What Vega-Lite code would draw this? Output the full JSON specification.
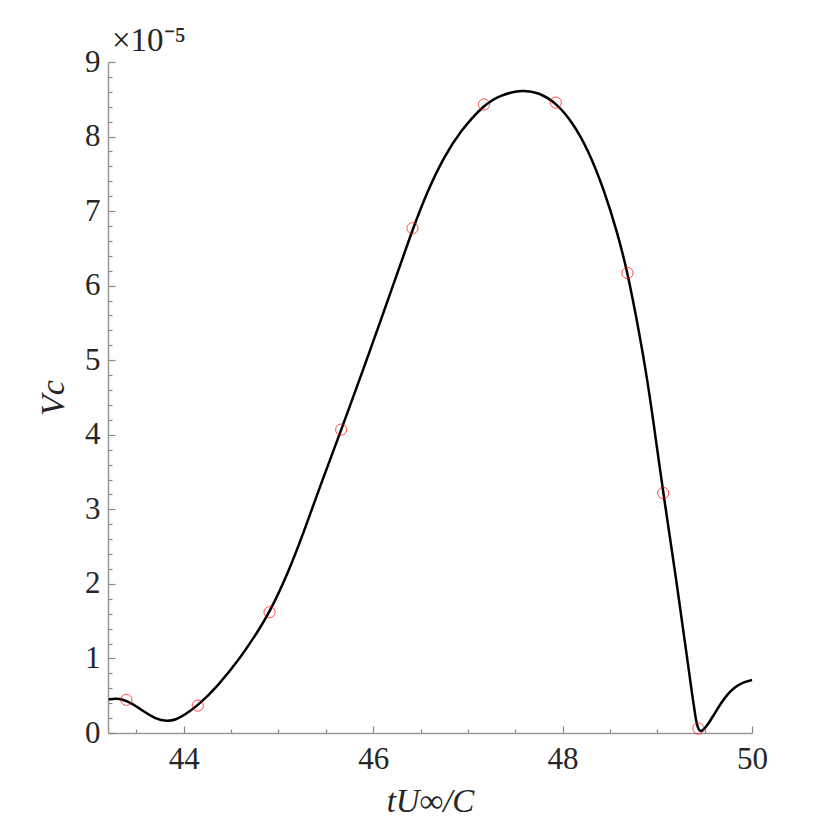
{
  "$schema": "https://vega.github.io/schema/vega-lite/v6.json",
  "width": 644,
  "height": 671,
  "autosize": "none",
  "padding": {"left": 108, "top": 62, "right": 78, "bottom": 97},
  "background": "white",
  "config": {"view": {"stroke": null}, "font": "Liberation Serif"},
  "title": {
    "text": "×10⁻⁵",
    "anchor": "start",
    "frame": "group",
    "dx": 4,
    "offset": 0,
    "dy": 12,
    "font": "Liberation Serif",
    "fontSize": 33,
    "fontWeight": "normal",
    "color": "#262626"
  },
  "datasets": {
    "curve": [
      {"t": 43.207, "Vc": 0.45},
      {"t": 43.28, "Vc": 0.462},
      {"t": 43.35, "Vc": 0.455},
      {"t": 43.45, "Vc": 0.4},
      {"t": 43.577, "Vc": 0.29},
      {"t": 43.7, "Vc": 0.19},
      {"t": 43.824, "Vc": 0.155},
      {"t": 43.92, "Vc": 0.18},
      {"t": 44.0, "Vc": 0.235},
      {"t": 44.148, "Vc": 0.367},
      {"t": 44.353, "Vc": 0.62},
      {"t": 44.6, "Vc": 1.01},
      {"t": 44.776, "Vc": 1.35},
      {"t": 44.906, "Vc": 1.62},
      {"t": 45.093, "Vc": 2.12},
      {"t": 45.269, "Vc": 2.7},
      {"t": 45.445, "Vc": 3.33},
      {"t": 45.664, "Vc": 4.07},
      {"t": 45.939, "Vc": 5.03},
      {"t": 46.114, "Vc": 5.66},
      {"t": 46.29, "Vc": 6.29},
      {"t": 46.415, "Vc": 6.75},
      {"t": 46.573, "Vc": 7.27},
      {"t": 46.748, "Vc": 7.73},
      {"t": 46.925, "Vc": 8.08},
      {"t": 47.171, "Vc": 8.43},
      {"t": 47.348, "Vc": 8.56},
      {"t": 47.577, "Vc": 8.63},
      {"t": 47.75, "Vc": 8.59},
      {"t": 47.929, "Vc": 8.455},
      {"t": 48.1, "Vc": 8.2},
      {"t": 48.264, "Vc": 7.84},
      {"t": 48.44, "Vc": 7.28},
      {"t": 48.581, "Vc": 6.7},
      {"t": 48.687, "Vc": 6.17},
      {"t": 48.793, "Vc": 5.48},
      {"t": 48.899, "Vc": 4.72},
      {"t": 49.0, "Vc": 3.8},
      {"t": 49.063, "Vc": 3.22},
      {"t": 49.215, "Vc": 1.93},
      {"t": 49.321, "Vc": 0.95},
      {"t": 49.37, "Vc": 0.5},
      {"t": 49.4, "Vc": 0.24},
      {"t": 49.42, "Vc": 0.1},
      {"t": 49.44, "Vc": 0.04},
      {"t": 49.455, "Vc": 0.025},
      {"t": 49.47, "Vc": 0.03},
      {"t": 49.49, "Vc": 0.05},
      {"t": 49.533, "Vc": 0.11},
      {"t": 49.6, "Vc": 0.25},
      {"t": 49.673, "Vc": 0.4},
      {"t": 49.74, "Vc": 0.52},
      {"t": 49.814, "Vc": 0.61},
      {"t": 49.9, "Vc": 0.68},
      {"t": 50.0, "Vc": 0.71}
    ],
    "samples": [
      {"t": 43.394, "Vc": 0.445},
      {"t": 44.148, "Vc": 0.367},
      {"t": 44.906, "Vc": 1.62},
      {"t": 45.662, "Vc": 4.07},
      {"t": 46.415, "Vc": 6.77},
      {"t": 47.17, "Vc": 8.43},
      {"t": 47.928, "Vc": 8.455},
      {"t": 48.685, "Vc": 6.17},
      {"t": 49.062, "Vc": 3.219},
      {"t": 49.434, "Vc": 0.06}
    ]
  },
  "encoding": {
    "x": {
      "field": "t",
      "type": "quantitative",
      "scale": {"domain": [43.2, 50], "nice": false, "zero": false},
      "axis": {
        "title": "tU∞/C",
        "values": [43.5, 44, 44.5, 45, 45.5, 46, 46.5, 47, 47.5, 48, 48.5, 49, 49.5, 50],
        "labelExpr": "datum.value % 2 === 0 ? format(datum.value, 'd') : ''",
        "tickSize": {"condition": {"test": "datum.value % 2 === 0", "value": -7}, "value": -4},
        "grid": false,
        "labelOverlap": false,
        "labelFlush": false,
        "labelFont": "Liberation Serif",
        "labelFontSize": 31,
        "labelColor": "#262626",
        "labelPadding": 18,
        "domainColor": "#999999",
        "domainWidth": 1.5,
        "tickColor": "#888888",
        "tickWidth": 1.2,
        "titleFont": "Liberation Serif",
        "titleFontSize": 33,
        "titleFontStyle": "italic",
        "titleFontWeight": "normal",
        "titleColor": "#262626",
        "titlePadding": 8
      }
    },
    "y": {
      "field": "Vc",
      "type": "quantitative",
      "scale": {"domain": [0, 9], "nice": false},
      "axis": {
        "title": "Vc",
        "values": [0, 0.2, 0.4, 0.6, 0.8, 1, 1.2, 1.4, 1.6, 1.8, 2, 2.2, 2.4, 2.6, 2.8, 3, 3.2, 3.4, 3.6, 3.8, 4, 4.2, 4.4, 4.6, 4.8, 5, 5.2, 5.4, 5.6, 5.8, 6, 6.2, 6.4, 6.6, 6.8, 7, 7.2, 7.4, 7.6, 7.8, 8, 8.2, 8.4, 8.6, 8.8, 9],
        "labelExpr": "abs(datum.value - round(datum.value)) < 0.001 ? format(datum.value, 'd') : ''",
        "tickSize": {"condition": {"test": "abs(datum.value - round(datum.value)) < 0.001", "value": -7}, "value": -4},
        "grid": false,
        "labelOverlap": false,
        "labelFlush": false,
        "labelFont": "Liberation Serif",
        "labelFontSize": 31,
        "labelColor": "#262626",
        "labelPadding": 15,
        "domainColor": "#999999",
        "domainWidth": 1.5,
        "tickColor": "#888888",
        "tickWidth": 1.2,
        "titleFont": "Liberation Serif",
        "titleFontSize": 34,
        "titleFontStyle": "italic",
        "titleFontWeight": "normal",
        "titleColor": "#262626",
        "titlePadding": 14
      }
    }
  },
  "layer": [
    {
      "data": {"name": "curve"},
      "mark": {"type": "line", "color": "black", "strokeWidth": 2.5, "interpolate": "basis"}
    },
    {
      "data": {"name": "samples"},
      "mark": {"type": "point", "shape": "circle", "filled": false, "color": "red", "size": 125, "strokeWidth": 1}
    }
  ]
}
